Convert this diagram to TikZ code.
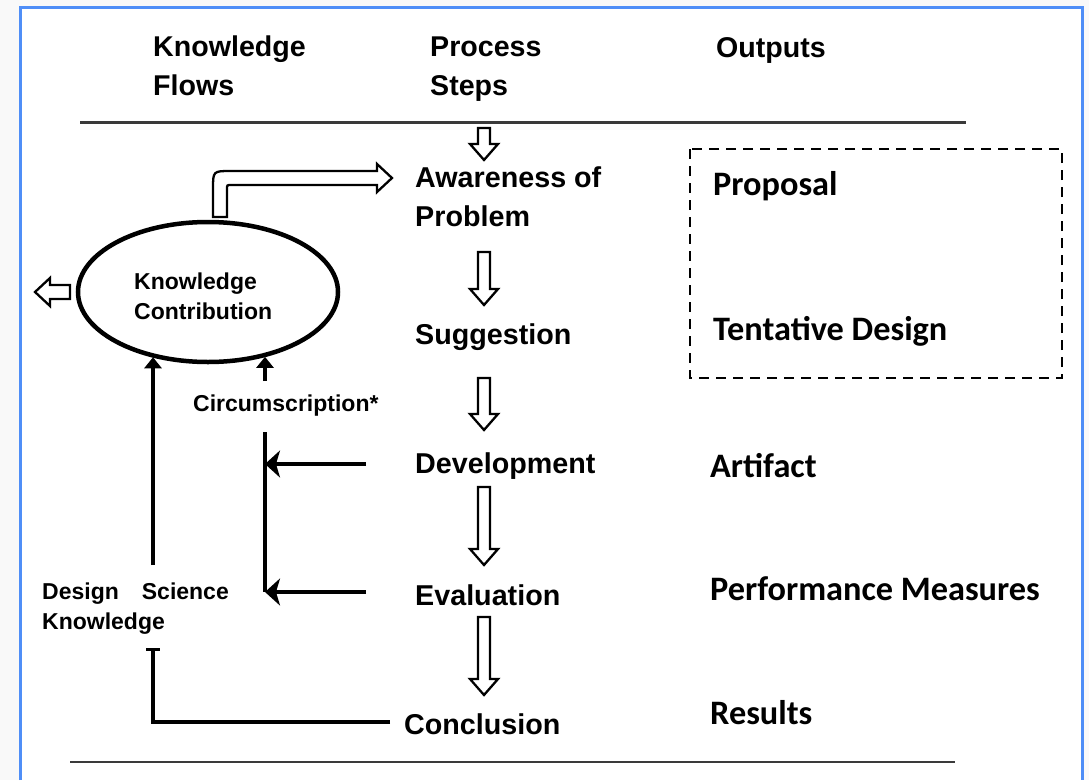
\documentclass[tikz,border=0pt]{standalone}
\usepackage{fontspec}
\setmainfont{Liberation Sans}
\newfontfamily\outfont{Carlito}
\usetikzlibrary{arrows.meta,shapes.geometric,calc}
\definecolor{frameblue}{HTML}{4F8EF7}
\definecolor{pagegray}{HTML}{F9F9F9}
\definecolor{rulegray}{HTML}{3A3A3A}

% hollow block arrow pointing down: centre x, top y, tip y
\newcommand\hollowdown[3]{%
  \draw[hollow] (#1-6,#2) -- (#1+6,#2) -- (#1+6,#3-16) -- (#1+14,#3-16)
    -- (#1,#3) -- (#1-14,#3-16) -- (#1-6,#3-16) -- cycle;}

\begin{document}
\begin{tikzpicture}[x=1pt,y=-1pt,
  hdr/.style={font=\fontsize{28.6}{39}\selectfont\bfseries, inner sep=0pt, anchor=base west, align=left},
  stepname/.style={font=\fontsize{28.7}{39}\selectfont\bfseries, inner sep=0pt, anchor=base west, align=left},
  outtxt/.style={font=\outfont\fontsize{34.3}{40}\selectfont\bfseries, inner sep=0pt, anchor=base west},
  flowtxt/.style={font=\fontsize{23}{29.5}\selectfont\bfseries, inner sep=0pt, anchor=base west, align=left},
  hollow/.style={draw=black, line width=2.3pt, fill=white, line join=miter},
  conn/.style={draw=black, line width=4.5pt},
  tipleft/.style={-{Stealth[length=15pt,width=27pt,inset=4pt]}},
  tipup/.style={-{Triangle[length=11pt,width=17pt]}},
  rule/.style={draw=rulegray, line width=3pt}
]
% page and frame
\fill[pagegray] (0,0) rectangle (1089,780);
\fill[white] (20,7) rectangle (1082,780);
\draw[frameblue, line width=3pt] (20,780) -- (20,7) -- (1082,7) -- (1082,780);
\useasboundingbox (0,0) rectangle (1089,780);

% column headings (multi-line nodes sit on the baseline of their last line)
\node[hdr] (hK) at (153,95) {Knowledge\\Flows};
\node[hdr] (hP) at (430,95) {Process\\Steps};
\node[hdr] (hO) at (716,57) {Outputs};
\draw[rule] (80,122) -- (966,122);
\draw[rule, line width=2.2pt] (70,762) -- (955,762);

% process steps
\node[stepname] (aw)  at (415,226) {Awareness of\\Problem};
\node[stepname] (sug) at (415,344) {Suggestion};
\node[stepname] (dev) at (415,473) {Development};
\node[stepname] (eva) at (415,605) {Evaluation};
\node[stepname] (con) at (404,734) {Conclusion};

\hollowdown{484}{128}{160}
\hollowdown{484}{252}{305}
\hollowdown{484}{378}{430}
\hollowdown{484}{487}{565}
\hollowdown{484}{617}{695}

% outputs
\draw[line width=2.5pt, dash pattern=on 10pt off 7pt] (690,149) rectangle (1062,378);
\node[outtxt] (prop) at (713,195) {Proposal};
\node[outtxt] (tent) at (713,340) {Tentative Design};
\node[outtxt] (art)  at (710,477) {Artifact};
\node[outtxt] (perf) at (710,600) {Performance Measures};
\node[outtxt] (res)  at (710,724) {Results};

% knowledge flows
\node[draw, line width=4.5pt, ellipse, minimum width=260pt, minimum height=140pt] (kc) at (208,292) {};
\node[flowtxt] (kctxt) at (134,319) {Knowledge\\Contribution};
\node[flowtxt] (circ) at (193,411) {Circumscription*};
\node[flowtxt] (dsk) at (42,629) {Design\hspace{23pt}Science\\Knowledge};

% contribution fed back to problem awareness
\draw[hollow] (213,217) -- (213,189) .. controls (213,171) .. (231,171) -- (377,171)
  -- (377,164) -- (392,178) -- (377,192) -- (377,185) -- (231,185)
  .. controls (227,185) .. (227,189) -- (227,217) -- cycle;
% contribution leaving to the left
\draw[hollow] (70,285) -- (50,285) -- (50,278) -- (35,292) -- (50,306) -- (50,299) -- (70,299) -- cycle;

% design science knowledge into contribution
\coordinate (dskTop) at (153,565);
\draw[conn, tipup] (dskTop) -- (dskTop |- kc.229);
% circumscription into contribution
\coordinate (csTop) at (265,381);
\draw[conn, tipup] (csTop) -- (csTop |- kc.312);
\coordinate (csA) at (265,432);
\coordinate (csB) at (265,592);
\draw[conn] (csA) -- (csB);
\coordinate (devIn) at (366,464);
\coordinate (evaIn) at (366,592);
\draw[conn, tipleft] (devIn) -- (devIn -| csA);
\draw[conn, tipleft] (evaIn) -- (evaIn -| csA);
% conclusion back to design science knowledge
\coordinate (conOut) at (390,722);
\coordinate (dskBot) at (153,648);
\draw[conn, -{Bar[width=14pt,line width=3pt]}] (conOut) -| (dskBot);
\end{tikzpicture}
\end{document}
